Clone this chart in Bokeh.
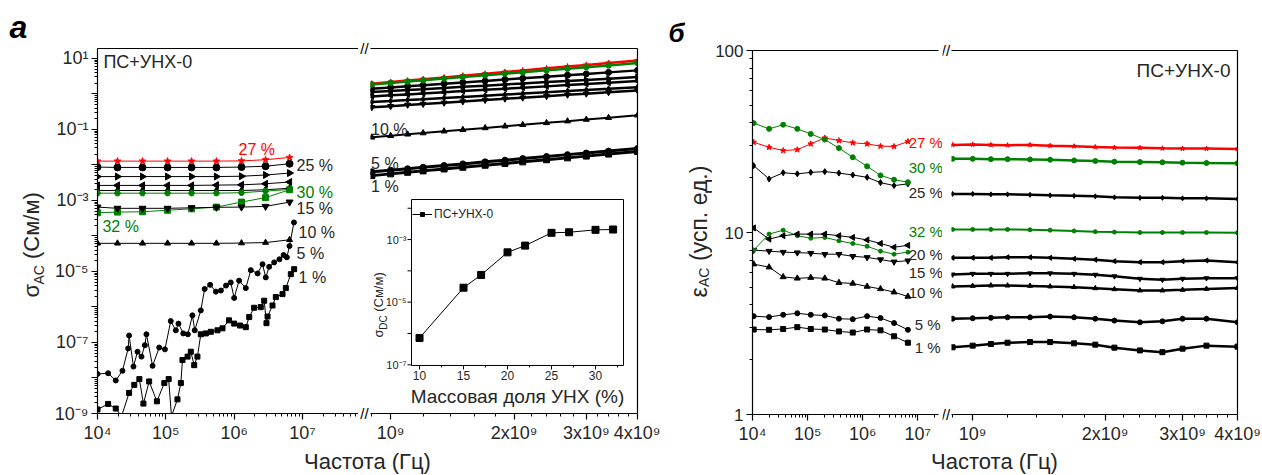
import numpy as np
from bokeh.plotting import figure
from bokeh.layouts import row, column
from bokeh.models import (Range1d, LogScale, LinearScale, LogAxis, FixedTicker,
                          BasicTickFormatter, Label, ColumnDataSource, Legend, LegendItem)
from bokeh.embed import file_html
from bokeh.resources import INLINE
from bokeh.core.properties import value

FONT = "Liberation Sans"
INK = "#262626"
RED = "#ff0000"
GREEN = "#008000"

# ---------------- panel а : sigma_AC (См/м) ----------------
# low-frequency segment, flat series
FREQ_A_LF = [1.0e4, 1.96e4, 4.56e4, 1.06e5, 2.38e5, 5.5e5, 1.28e6, 2.88e6, 6.47e6]
SIG_LF_27 = [1.28e-2, 1.28e-2, 1.28e-2, 1.28e-2, 1.28e-2, 1.28e-2, 1.30e-2, 1.40e-2, 1.62e-2]
SIG_LF_25 = [8.7e-3, 8.5e-3, 8.5e-3, 8.5e-3, 8.5e-3, 8.5e-3, 8.7e-3, 9.2e-3, 1.08e-2]
SIG_LF_22 = [4.7e-3, 4.7e-3, 4.7e-3, 4.7e-3, 4.7e-3, 4.7e-3, 4.8e-3, 5.2e-3, 5.9e-3]
SIG_LF_20 = [2.65e-3, 2.65e-3, 2.65e-3, 2.65e-3, 2.65e-3, 2.7e-3, 2.75e-3, 2.95e-3, 3.3e-3]
SIG_LF_17 = [1.9e-3, 1.9e-3, 1.9e-3, 1.9e-3, 1.9e-3, 1.9e-3, 1.9e-3, 2.0e-3, 2.2e-3]
SIG_LF_30 = [1.6e-3, 1.6e-3, 1.6e-3, 1.6e-3, 1.6e-3, 1.6e-3, 1.65e-3, 1.83e-3, 2.04e-3]
SIG_LF_15 = [6.5e-4, 6.0e-4, 6.0e-4, 6.0e-4, 6.2e-4, 6.4e-4, 6.5e-4, 6.8e-4, 9.0e-4]
SIG_LF_32 = [4.5e-4, 4.7e-4, 4.8e-4, 5.3e-4, 5.8e-4, 6.5e-4, 9.0e-4, 1.2e-3, 2.0e-3]
SIG_LF_10 = [6.2e-5, 6.2e-5, 6.2e-5, 6.2e-5, 6.2e-5, 6.2e-5, 6.3e-5, 6.5e-5, 7.8e-5]

# low-frequency segment, noisy series
FREQ_A_LF_5 = [1.0e4, 1.43e4, 1.85e4, 2.32e4, 2.81e4, 2.9e4, 3.36e4, 3.85e4, 4.4e4, 4.93e4,
               5.2e4, 6.4e4, 8.0e4, 9.7e4, 1.18e5, 1.4e5, 1.53e5, 1.8e5, 2.1e5, 2.45e5,
               2.65e5, 3.25e5, 3.7e5, 4.45e5, 5.4e5, 6.4e5, 7.6e5, 8.9e5, 1.0e6, 1.18e6,
               1.48e6, 1.75e6, 2.2e6, 2.6e6, 2.9e6, 3.25e6, 3.85e6, 4.6e6, 5.3e6, 5.9e6,
               6.45e6, 7.5e6]
SIG_LF_5 = [1.3e-8, 1.36e-8, 8.5e-9, 1.6e-8, 6.8e-8, 1.57e-7, 2.1e-8, 5.5e-8, 4.0e-8, 8.4e-8,
            1.7e-7, 2.2e-8, 7.2e-8, 6.4e-8, 4.0e-7, 2.2e-7, 3.4e-7, 1.8e-7, 1.7e-7, 5.8e-7,
            2.2e-7, 8.0e-7, 3.2e-6, 4.2e-6, 2.7e-6, 2.9e-6, 4.0e-6, 4.9e-6, 1.8e-6, 5.5e-6,
            3.4e-6, 1.09e-5, 8.8e-6, 1.6e-5, 6.8e-6, 1.35e-5, 1.8e-5, 2.2e-5, 2.9e-5, 2.5e-5,
            5.2e-5, 2.4e-4]
FREQ_A_LF_1 = [1.0e4, 1.43e4, 1.85e4, 2.25e4, 2.9e4, 3.45e4, 4.1e4, 4.7e4, 5.7e4, 7.4e4,
               9.5e4, 1.1e5, 1.21e5, 1.48e5, 1.66e5, 1.75e5, 2.08e5, 2.32e5, 2.6e5, 2.9e5,
               3.25e5, 3.85e5, 4.56e5, 5.7e5, 6.75e5, 8.4e5, 1.0e6, 1.22e6, 1.48e6, 1.66e6,
               1.96e6, 2.45e6, 2.75e6, 2.97e6, 3.08e6, 3.64e6, 4.07e6, 5.1e6, 5.7e6, 6.75e6,
               7.55e6]
SIG_LF_1 = [1.3e-9, 1.86e-9, 1.38e-9, 8.4e-10, 3.8e-9, 6.4e-9, 9.3e-9, 1.9e-9, 8.0e-9, 2.2e-9,
            7.2e-9, 9.3e-9, 8.4e-10, 2.5e-9, 7.2e-9, 3.2e-8, 4.0e-8, 5.5e-8, 2.3e-8, 4.0e-8,
            1.7e-7, 1.8e-7, 2.0e-7, 2.2e-7, 2.5e-7, 4.2e-7, 3.4e-7, 3.0e-7, 2.7e-7, 5.2e-7,
            9.5e-7, 9.9e-7, 1.5e-6, 3.5e-7, 5.4e-7, 1.1e-6, 1.9e-6, 2.3e-6, 3.4e-6, 8.4e-6,
            1.16e-5]

# high-frequency segment (shared frequency grid, Hz)
FREQ_HF = [9.0e8, 1.0e9, 1.1e9, 1.2e9, 1.35e9, 1.5e9, 1.7e9, 1.9e9, 2.1e9, 2.4e9,
           2.7e9, 3.0e9, 3.4e9, 4.0e9]
SIG_HF_27 = [1.94, 2.16, 2.38, 2.60, 2.92, 3.26, 3.69, 4.14, 4.58, 5.24, 5.90, 6.56, 7.45, 8.79]
SIG_HF_30 = [1.85, 2.04, 2.23, 2.42, 2.70, 2.98, 3.33, 3.71, 4.06, 4.60, 5.13, 5.66, 6.35, 7.40]
SIG_HF_25 = [1.40, 1.52, 1.64, 1.76, 1.94, 2.10, 2.32, 2.55, 2.75, 3.06, 3.37, 3.66, 4.04, 4.60]
SIG_HF_22 = [1.13, 1.21, 1.29, 1.36, 1.47, 1.58, 1.71, 1.85, 1.97, 2.15, 2.32, 2.48, 2.69, 3.00]
SIG_HF_20 = [0.85, 0.91, 0.97, 1.03, 1.11, 1.20, 1.30, 1.40, 1.50, 1.63, 1.77, 1.90, 2.06, 2.30]
SIG_HF_17 = [0.59, 0.63, 0.67, 0.71, 0.77, 0.82, 0.89, 0.96, 1.02, 1.11, 1.20, 1.29, 1.39, 1.55]
SIG_HF_15 = [0.42, 0.45, 0.49, 0.52, 0.56, 0.61, 0.67, 0.73, 0.78, 0.86, 0.94, 1.01, 1.11, 1.25]
SIG_HF_10 = [0.060, 0.066, 0.073, 0.079, 0.089, 0.098, 0.110, 0.123, 0.135, 0.153, 0.171,
             0.190, 0.214, 0.250]
SIG_HF_5 = [6.4e-3, 7.1e-3, 7.8e-3, 8.6e-3, 9.6e-3, 1.07e-2, 1.22e-2, 1.36e-2, 1.51e-2,
            1.73e-2, 1.95e-2, 2.16e-2, 2.45e-2, 2.9e-2]
SIG_HF_1 = [5.0e-3, 5.6e-3, 6.2e-3, 6.8e-3, 7.7e-3, 8.6e-3, 9.8e-3, 1.10e-2, 1.22e-2,
            1.40e-2, 1.58e-2, 1.77e-2, 2.02e-2, 2.4e-2]

# inset: DC conductivity vs filler content
CNT_WT = [10, 15, 17, 20, 22, 25, 27, 30, 32]
SIG_DC = [7.2e-7, 2.9e-5, 7.4e-5, 3.9e-4, 6.4e-4, 1.64e-3, 1.71e-3, 2.04e-3, 2.09e-3]

# ---------------- panel б : epsilon_AC ----------------
FREQ_B_LF = [1.05e4, 2.0e4, 3.6e4, 6.5e4, 1.14e5, 2.05e5, 3.7e5, 6.6e5, 1.2e6, 2.1e6, 3.7e6, 6.6e6]
EPS_LF_30 = [39.9, 37.1, 39.1, 37.1, 34.8, 32.4, 29.1, 25.9, 23.1, 20.6, 19.5, 18.9]
EPS_LF_27 = [31.3, 29.4, 28.2, 28.5, 30.7, 33.1, 32.0, 31.1, 30.7, 29.8, 29.7, 31.6]
EPS_LF_25 = [23.3, 19.7, 21.3, 21.0, 21.4, 21.6, 21.2, 20.7, 20.1, 18.8, 18.1, 18.5]
EPS_LF_20 = [10.6, 9.2, 9.6, 9.8, 9.8, 9.8, 9.6, 9.4, 9.1, 8.7, 8.3, 8.5]
EPS_LF_32 = [8.0, 9.8, 10.3, 9.6, 9.3, 9.4, 9.0, 8.7, 8.4, 7.9, 7.6, 7.8]
EPS_LF_15 = [8.0, 7.9, 7.8, 7.75, 7.7, 7.6, 7.6, 7.4, 7.3, 7.1, 6.9, 7.0]
EPS_LF_10 = [6.7, 6.45, 5.7, 5.6, 5.65, 5.6, 5.3, 5.25, 5.05, 4.9, 4.7, 4.45]
EPS_LF_5 = [3.47, 3.43, 3.53, 3.6, 3.53, 3.5, 3.36, 3.34, 3.47, 3.39, 3.18, 2.92]
EPS_LF_1 = [2.93, 2.92, 2.95, 3.02, 2.95, 2.93, 2.86, 2.82, 2.93, 2.9, 2.69, 2.48]

EPS_HF_27 = [30.3, 30.4, 30.3, 30.2, 30.3, 30.0, 29.8, 29.5, 29.3, 29.2, 29.0, 28.9, 28.9, 28.8]
EPS_HF_30 = [25.4, 25.4, 25.3, 25.3, 25.2, 25.1, 24.9, 24.7, 24.5, 24.4, 24.3, 24.2, 24.1, 24.0]
EPS_HF_25 = [16.3, 16.3, 16.2, 16.2, 16.1, 16.0, 15.9, 15.8, 15.6, 15.5, 15.5, 15.4, 15.4, 15.3]
EPS_HF_32 = [10.4, 10.4, 10.4, 10.4, 10.35, 10.3, 10.2, 10.1, 10.05, 10.0, 10.0, 10.0, 10.0, 9.96]
EPS_HF_20 = [7.26, 7.26, 7.26, 7.31, 7.31, 7.26, 7.17, 7.08, 6.96, 6.87, 6.87, 6.96, 7.02, 6.87]
EPS_HF_15 = [5.88, 5.93, 5.93, 5.93, 5.97, 5.97, 5.93, 5.86, 5.75, 5.57, 5.50, 5.57, 5.61, 5.61]
EPS_HF_10 = [5.05, 5.09, 5.11, 5.11, 5.09, 5.05, 5.01, 4.94, 4.88, 4.80, 4.80, 4.84, 4.90, 4.96]
EPS_HF_5 = [3.36, 3.38, 3.40, 3.42, 3.42, 3.45, 3.42, 3.36, 3.28, 3.21, 3.25, 3.36, 3.36, 3.21]
EPS_HF_1 = [2.34, 2.39, 2.44, 2.48, 2.50, 2.50, 2.46, 2.42, 2.33, 2.25, 2.20, 2.30, 2.39, 2.36]

# axis limits of the broken axes
A_LF_LIM = (1.0e4, 6.6e7)
A_HF_LIM = (8.93e8, 4.0e9)
A_Y_LIM = (1.0e-9, 19.0)
B_LF_LIM = (1.0e4, 2.80e7)
B_LF_AXIS_END = 2.37e7
B_HF_LIM = (8.95e8, 4.0e9)
B_Y_LIM = (1.0, 100.0)
# inset coordinate systems (mapped over the whole right-hand frame of panel а)
INS_X_RANGE = (4.43, 34.77)
INS_Y_RANGE = (2.78e-9, 1265.0)
INS_X_LIM = (9.09, 33.18)
INS_Y_LIM = (9.5e-8, 1.9e-2)
INS_XTICKS = [10, 15, 20, 25, 30]
INS_XMINOR = [12.5, 17.5, 22.5, 27.5, 32.5]
INS_YTICKS = [1e-7, 1e-6, 1e-5, 1e-4, 1e-3, 1e-2]

SUP = str.maketrans("-0123456789", "⁻⁰¹²³⁴⁵⁶⁷⁸⁹")
TOP_H = 450


def p10(e, k=None):
    s = "10" + str(e).translate(SUP)
    return s if k is None else f"{k}x{s}"


def no_grid(p):
    p.grid.grid_line_color = None
    p.grid.visible = False


def make_fig(width, xlim, ylim, left, right, top, bottom):
    p = figure(width=width, height=TOP_H, x_range=Range1d(*xlim), y_range=Range1d(*ylim),
               x_axis_type="log", y_axis_type="log", x_axis_location=None, y_axis_location=None,
               output_backend="svg", toolbar_location=None,
               min_border_left=left, min_border_right=right,
               min_border_top=top, min_border_bottom=bottom)
    p.frame_align = False
    p.outline_line_color = None
    p.background_fill_color = "white"
    p.border_fill_color = "white"
    no_grid(p)
    return p


def pixel_fig(width, height=TOP_H):
    # plain drawing area in pixel units, used for titles and axis-break marks
    p = figure(width=width, height=height, x_range=Range1d(0, width), y_range=Range1d(0, height),
               x_axis_location=None, y_axis_location=None, min_border=0,
               output_backend="svg", toolbar_location=None)
    p.frame_align = False
    p.outline_line_color = None
    p.background_fill_color = "white"
    p.border_fill_color = "white"
    no_grid(p)
    return p


def tick_axis(ticks, minor, labels, size="18px", bounds="auto"):
    ax = LogAxis(ticker=FixedTicker(ticks=ticks, minor_ticks=minor),
                 formatter=BasicTickFormatter(), major_label_overrides=labels, bounds=bounds)
    ax.axis_line_color = "black"
    ax.axis_line_width = 1.2
    ax.major_tick_line_color = "black"
    ax.major_tick_line_width = 1.2
    ax.minor_tick_line_color = "black"
    ax.major_tick_out = 6
    ax.major_tick_in = 0
    ax.minor_tick_out = 3
    ax.minor_tick_in = 0
    ax.major_label_text_font = FONT
    ax.major_label_text_font_size = size
    ax.major_label_text_color = INK
    ax.major_label_standoff = 3
    return ax


def edge_axis(bounds="auto"):
    ax = LogAxis(ticker=FixedTicker(ticks=[], minor_ticks=[]), bounds=bounds)
    ax.axis_line_color = "black"
    ax.axis_line_width = 1.2
    ax.major_tick_line_color = None
    ax.minor_tick_line_color = None
    ax.major_label_text_font_size = "0px"
    return ax


def series(p, x, y, color, marker, size=6, angle=0.0, lw=1.0, **kw):
    p.line(x, y, line_color=color, line_width=lw, **kw)
    p.scatter(x, y, marker=marker, size=size, angle=angle, fill_color=color,
              line_color=color, **kw)


def text(p, x, y, s, color=INK, size="16px", align="left", baseline="middle", angle=0.0,
         style="normal", **kw):
    p.add_layout(Label(x=x, y=y, text=s, text_color=color, text_font=FONT,
                       text_font_size=size, text_align=align, text_baseline=baseline,
                       angle=angle, text_font_style=style, **kw))


LEFT = np.pi / 2
RIGHT = -np.pi / 2

# decade ticks
A_DEC = [10.0 ** e for e in range(-9, 2)]
A_MIN = [k * 10.0 ** e for e in range(-9, 1) for k in range(2, 10)]
A_LAB = {10.0 ** e: (p10(e) if e % 2 else "") for e in range(-9, 2)}
LF_DEC = [1e4, 1e5, 1e6, 1e7]
LF_MIN = [k * 10.0 ** e for e in range(4, 8) for k in range(2, 10)]
LF_LAB = {1e4: p10(4), 1e5: p10(5), 1e6: p10(6), 1e7: p10(7)}
HF_DEC = [1e9, 2e9, 3e9, 4e9]
HF_MIN = [9e8, 1.2e9, 1.4e9, 1.6e9, 1.8e9, 2.2e9, 2.4e9, 2.6e9, 2.8e9,
          3.2e9, 3.4e9, 3.6e9, 3.8e9]
HF_LAB = {1e9: p10(9), 2e9: p10(9, 2), 3e9: p10(9, 3), 4e9: p10(9, 4)}
B_DEC = [1.0, 10.0, 100.0]
B_MIN = [k * 10.0 ** e for e in range(0, 2) for k in range(2, 10)]
B_LAB = {1.0: "1", 10.0: "10", 100.0: "100"}

# ======================= panel а: title column =======================
ttl_a = pixel_fig(50)
text(ttl_a, 9, 424, "а", "black", "32px", style="bold italic")
text(ttl_a, 31, 153, "σ", size="22px", angle=LEFT)
text(ttl_a, 38, 166, "AC", size="14px", angle=LEFT)
text(ttl_a, 31, 191.5, "(См/м)", size="22px", angle=LEFT)

# ======================= panel а, low-frequency part =======================
fa_l = make_fig(308, A_LF_LIM, A_Y_LIM, 47, 0, 48, 37)
fa_l.add_layout(tick_axis(A_DEC, A_MIN, A_LAB), "left")
fa_l.add_layout(tick_axis(LF_DEC, LF_MIN, LF_LAB), "below")
fa_l.add_layout(edge_axis(), "above")

series(fa_l, FREQ_A_LF, SIG_LF_10, "black", "triangle", 6)
series(fa_l, FREQ_A_LF, SIG_LF_32, GREEN, "square", 6)
series(fa_l, FREQ_A_LF, SIG_LF_15, "black", "inverted_triangle", 7)
series(fa_l, FREQ_A_LF, SIG_LF_17, "black", "diamond", 7)
series(fa_l, FREQ_A_LF, SIG_LF_30, GREEN, "hex", 6)
series(fa_l, FREQ_A_LF, SIG_LF_20, "black", "triangle", 7, LEFT)
series(fa_l, FREQ_A_LF, SIG_LF_22, "black", "triangle", 7, RIGHT)
series(fa_l, FREQ_A_LF, SIG_LF_25, "black", "circle", 7)
series(fa_l, FREQ_A_LF, SIG_LF_27, RED, "star", 7)
series(fa_l, FREQ_A_LF_5, SIG_LF_5, "black", "circle", 5)
series(fa_l, FREQ_A_LF_1, SIG_LF_1, "black", "square", 5)

text(fa_l, 1.22e4, 7.96, "ПС+УНХ-0", size="18px")
text(fa_l, 1.16e6, 2.73e-2, "27 %", RED)
text(fa_l, 8.2e6, 9.7e-3, "25 %")
text(fa_l, 8.2e6, 1.68e-3, "30 %", GREEN)
text(fa_l, 8.2e6, 5.96e-4, "15 %")
text(fa_l, 1.18e4, 1.85e-4, "32 %", GREEN)
text(fa_l, 8.77e6, 1.26e-4, "10 %")
text(fa_l, 8.2e6, 3.2e-5, "5 %")
text(fa_l, 8.77e6, 6.8e-6, "1 %")

# ======================= panel а: axis break =======================
gap_a = pixel_fig(12)
for yb in (TOP_H - 413, TOP_H - 48):
    text(gap_a, 6, yb, "//", "black", "15px", align="center")

# ======================= panel а, high-frequency part =======================
fa_r = make_fig(290, A_HF_LIM, A_Y_LIM, 0, 23, 48, 37)
fa_r.add_layout(tick_axis(HF_DEC, HF_MIN, HF_LAB), "below")
fa_r.add_layout(edge_axis(), "above")
fa_r.add_layout(edge_axis(), "right")

series(fa_r, FREQ_HF, SIG_HF_1, "black", "square", 6, lw=3)
series(fa_r, FREQ_HF, SIG_HF_5, "black", "circle", 6, lw=3)
series(fa_r, FREQ_HF, SIG_HF_10, "black", "triangle", 6, lw=2)
series(fa_r, FREQ_HF, SIG_HF_15, "black", "inverted_triangle", 6, lw=2.5)
series(fa_r, FREQ_HF, SIG_HF_17, "black", "diamond", 6, lw=2.5)
series(fa_r, FREQ_HF, SIG_HF_20, "black", "triangle", 6, LEFT, lw=2.5)
series(fa_r, FREQ_HF, SIG_HF_22, "black", "triangle", 6, RIGHT, lw=2.5)
series(fa_r, FREQ_HF, SIG_HF_25, "black", "circle", 6, lw=2.5)
series(fa_r, FREQ_HF, SIG_HF_27, RED, "star", 6, lw=2.5)
series(fa_r, FREQ_HF, SIG_HF_30, GREEN, "hex", 6, lw=2.5)

text(fa_r, 8.96e8, 0.1, "10 %")
text(fa_r, 8.96e8, 1.1e-2, "5 %")
text(fa_r, 8.96e8, 2.48e-3, "1 %")

# inset
fa_r.extra_x_ranges = {"ins": Range1d(*INS_X_RANGE)}
fa_r.extra_x_scales = {"ins": LinearScale()}
fa_r.extra_y_ranges = {"ins": Range1d(*INS_Y_RANGE)}
fa_r.extra_y_scales = {"ins": LogScale()}
INS = dict(x_range_name="ins", y_range_name="ins")
fa_r.quad(left=[INS_X_LIM[0]], right=[INS_X_LIM[1]], bottom=[INS_Y_LIM[0]], top=[INS_Y_LIM[1]],
          fill_color="white", line_color="black", line_width=1, **INS)
fa_r.ray(x=INS_XTICKS, y=[INS_Y_LIM[0]] * len(INS_XTICKS), length=4, length_units="screen",
         angle=-np.pi / 2, line_color="black", **INS)
fa_r.ray(x=INS_XMINOR, y=[INS_Y_LIM[0]] * len(INS_XMINOR), length=2, length_units="screen",
         angle=-np.pi / 2, line_color="black", **INS)
fa_r.ray(x=[INS_X_LIM[0]] * len(INS_YTICKS), y=INS_YTICKS, length=4, length_units="screen",
         angle=np.pi, line_color="black", **INS)
xt_src = ColumnDataSource(dict(x=INS_XTICKS, y=[INS_Y_LIM[0]] * len(INS_XTICKS),
                               t=[str(v) for v in INS_XTICKS]))
fa_r.text("x", "y", text="t", source=xt_src, text_font=value(FONT), text_font_size="12px",
          text_color=INK, text_align="center", text_baseline="top", y_offset=6, **INS)
yt_vals = [1e-7, 1e-5, 1e-3]
yt_src = ColumnDataSource(dict(x=[INS_X_LIM[0]] * 3, y=yt_vals, t=[p10(-7), p10(-5), p10(-3)]))
fa_r.text("x", "y", text="t", source=yt_src, text_font=value(FONT), text_font_size="11px",
          text_color=INK, text_align="right", text_baseline="middle", x_offset=-5, **INS)
ins_line = fa_r.line(CNT_WT, SIG_DC, line_color="black", line_width=1, **INS)
ins_pts = fa_r.scatter(CNT_WT, SIG_DC, marker="square", size=7, color="black", **INS)
leg = Legend(items=[LegendItem(label="ПС+УНХ-0", renderers=[ins_line, ins_pts])],
             location=(42, 192))
leg.background_fill_alpha = 0
leg.border_line_color = None
leg.label_text_font = FONT
leg.label_text_font_size = "12px"
leg.label_text_color = INK
leg.glyph_width = 20
leg.glyph_height = 10
leg.label_height = 12
leg.label_standoff = 2
leg.padding = 0
leg.margin = 0
leg.spacing = 0
fa_r.add_layout(leg)
text(fa_r, 21.14, INS_Y_LIM[0], "Массовая доля УНХ (%)", size="19px", align="center",
     y_offset=-31, **INS)
text(fa_r, 5.34, 7.4e-7, "σ", size="13px", angle=LEFT, **INS)
text(fa_r, 5.91, 1.31e-6, "DC", size="10px", angle=LEFT, **INS)
text(fa_r, 5.34, 4.93e-6, "(См/м)", size="13px", angle=LEFT, **INS)

# ======================= panel б: title column =======================
ttl_b = pixel_fig(52)
text(ttl_b, 8, 418, "б", "black", "26px", style="bold italic")
text(ttl_b, 38, 153, "ε", size="23px", angle=LEFT)
text(ttl_b, 43.5, 163.5, "AC", size="14px", angle=LEFT)
text(ttl_b, 38, 189.5, "(усп. ед.)", size="23px", angle=LEFT)

# ======================= panel б, low-frequency part =======================
fb_l = make_fig(230, B_LF_LIM, B_Y_LIM, 39, 0, 50, 36)
fb_l.add_layout(tick_axis(B_DEC, B_MIN, B_LAB, size="17px"), "left")
fb_l.add_layout(tick_axis(LF_DEC, LF_MIN, LF_LAB, bounds=(B_LF_LIM[0], B_LF_AXIS_END)), "below")
fb_l.add_layout(edge_axis(bounds=(B_LF_LIM[0], B_LF_AXIS_END)), "above")

series(fb_l, FREQ_B_LF, EPS_LF_1, "black", "square", 5)
series(fb_l, FREQ_B_LF, EPS_LF_5, "black", "circle", 5)
series(fb_l, FREQ_B_LF, EPS_LF_10, "black", "triangle", 6)
series(fb_l, FREQ_B_LF, EPS_LF_15, "black", "inverted_triangle", 6)
series(fb_l, FREQ_B_LF, EPS_LF_32, GREEN, "circle", 4)
series(fb_l, FREQ_B_LF, EPS_LF_20, "black", "triangle", 6, LEFT)
series(fb_l, FREQ_B_LF, EPS_LF_25, "black", "diamond", 6)
series(fb_l, FREQ_B_LF, EPS_LF_27, RED, "star", 6)
series(fb_l, FREQ_B_LF, EPS_LF_30, GREEN, "circle", 5)

text(fb_l, 6.82e6, 31.2, "27 %", RED, "15px")
text(fb_l, 6.82e6, 22.8, "30 %", GREEN, "15px")
text(fb_l, 6.82e6, 16.6, "25 %", size="15px")
text(fb_l, 6.82e6, 10.1, "32 %", GREEN, "15px")
text(fb_l, 6.82e6, 7.57, "20 %", size="15px")
text(fb_l, 6.82e6, 6.03, "15 %", size="15px")
text(fb_l, 6.82e6, 4.68, "10 %", size="15px")
text(fb_l, 8.75e6, 3.12, "5 %", size="15px")
text(fb_l, 8.75e6, 2.33, "1 %", size="15px")

# ======================= panel б: axis break =======================
gap_b = pixel_fig(9)
for yb in (TOP_H - 414, TOP_H - 50):
    text(gap_b, 3.5, yb, "//", "black", "15px", align="center")

# ======================= panel б, high-frequency part =======================
fb_r = make_fig(311, B_HF_LIM, B_Y_LIM, 0, 25, 50, 36)
fb_r.add_layout(tick_axis(HF_DEC, HF_MIN, HF_LAB), "below")
fb_r.add_layout(edge_axis(), "above")
fb_r.add_layout(edge_axis(), "right")

series(fb_r, FREQ_HF, EPS_HF_1, "black", "square", 5, lw=2.5)
series(fb_r, FREQ_HF, EPS_HF_5, "black", "circle", 5, lw=2.5)
series(fb_r, FREQ_HF, EPS_HF_10, "black", "triangle", 5, lw=2.5)
series(fb_r, FREQ_HF, EPS_HF_15, "black", "inverted_triangle", 5, lw=2.5)
series(fb_r, FREQ_HF, EPS_HF_20, "black", "triangle", 5, LEFT, lw=2.5)
series(fb_r, FREQ_HF, EPS_HF_32, GREEN, "circle", 4, lw=2)
series(fb_r, FREQ_HF, EPS_HF_25, "black", "diamond", 5, lw=2.5)
series(fb_r, FREQ_HF, EPS_HF_30, GREEN, "circle", 5, lw=2.5)
series(fb_r, FREQ_HF, EPS_HF_27, RED, "star", 5, lw=2.5)
text(fb_r, 3.855e9, 77.6, "ПС+УНХ-0", size="19px", align="right")

# ======================= x-axis titles =======================
strip = pixel_fig(1262, 25)
for xc in (367, 994):
    text(strip, xc, 14, "Частота (Гц)", size="22px", align="center")

top = row(ttl_a, fa_l, gap_a, fa_r, ttl_b, fb_l, gap_b, fb_r, spacing=0)
layout = column(top, strip, spacing=0)
open("out.html", "w").write(file_html(layout, INLINE))
